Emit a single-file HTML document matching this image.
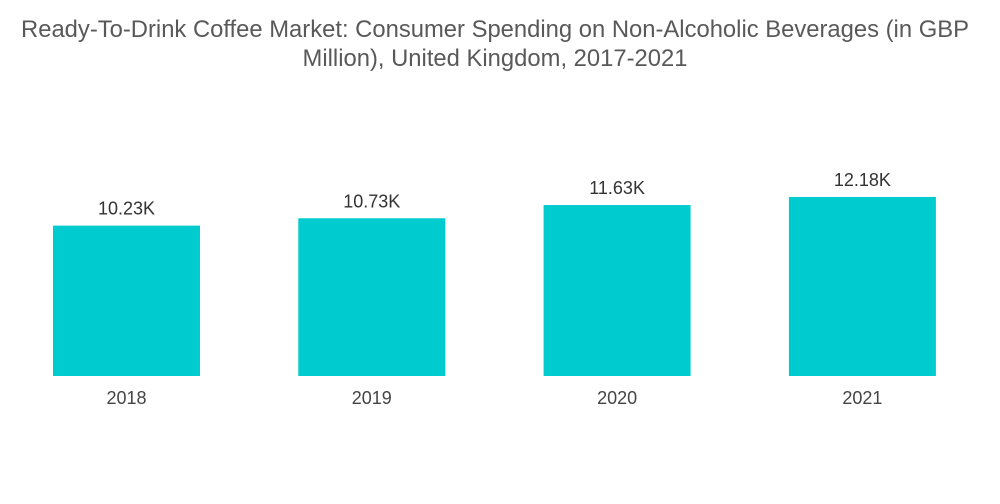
<!DOCTYPE html>
<html><head><meta charset="utf-8"><style>
body{margin:0;width:1000px;height:504px;background:#fff;overflow:hidden;font-family:"Liberation Sans",sans-serif}
#title{position:absolute;left:0;top:15px;width:990px;text-align:center;font-size:23.8px;line-height:29px;color:#595959}
</style></head><body>
<div id="title">Ready-To-Drink Coffee Market: Consumer Spending on Non-Alcoholic Beverages (in GBP<br>Million), United Kingdom, 2017-2021</div>
<svg id="chart" width="1000" height="504" style="position:absolute;left:0;top:0"></svg>
<script>
const categories=["2018","2019","2020","2021"];
const values=[10.23,10.73,11.63,12.18];
const valueLabels=["10.23K","10.73K","11.63K","12.18K"];
const ns="http://www.w3.org/2000/svg";
const svg=document.getElementById("chart");
const baseY=376, scale=14.7;
function y(v){return baseY-v*scale;}
function x(i){return 53+i*245.3;}
const bw=147;
categories.forEach((c,i)=>{
  const r=document.createElementNS(ns,"rect");
  r.setAttribute("x",x(i));r.setAttribute("y",y(values[i]));
  r.setAttribute("width",bw);r.setAttribute("height",baseY-y(values[i]));
  r.setAttribute("fill","#00cccf");
  
  
  svg.appendChild(r);
  const t=document.createElementNS(ns,"text");
  t.setAttribute("x",x(i)+bw/2);t.setAttribute("y",y(values[i])-11);
  t.setAttribute("text-anchor","middle");t.setAttribute("font-size","18");t.setAttribute("fill","#333");
  t.setAttribute("font-family","Liberation Sans, sans-serif");
  t.textContent=valueLabels[i];
  
  
  svg.appendChild(t);
  const l=document.createElementNS(ns,"text");
  l.setAttribute("x",x(i)+bw/2);l.setAttribute("y",404);
  l.setAttribute("text-anchor","middle");l.setAttribute("font-size","18");l.setAttribute("fill","#444");
  l.setAttribute("font-family","Liberation Sans, sans-serif");
  l.textContent=c;
  
  
  svg.appendChild(l);
});
</script>
</body></html>
